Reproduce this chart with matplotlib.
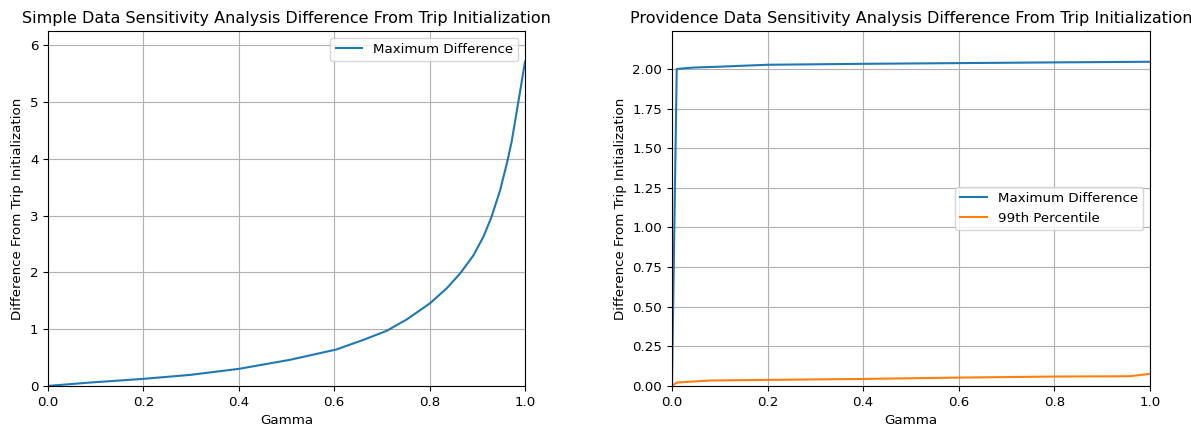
import matplotlib
matplotlib.use("Agg")
import matplotlib.pyplot as plt

# Left panel: simple data
simple_gamma = [0.0, 0.088, 0.2, 0.298, 0.4, 0.507, 0.604, 0.661, 0.710, 0.752, 0.801,
                0.836, 0.864, 0.892, 0.913, 0.930, 0.948, 0.962, 0.972, 0.983, 0.991, 1.0]
simple_max = [0.0, 0.059, 0.124, 0.194, 0.30, 0.459, 0.64, 0.81, 0.97, 1.17, 1.456,
              1.72, 1.98, 2.30, 2.63, 2.98, 3.45, 3.92, 4.30, 4.85, 5.25, 5.71]

# Right panel: Providence data
prov_gamma = [0.0, 0.01, 0.03, 0.05, 0.1, 0.2, 0.4, 0.6, 0.8, 1.0]
prov_max = [0.0, 2.0, 2.006, 2.01, 2.015, 2.027, 2.033, 2.0375, 2.042, 2.046]
p99_gamma = [0.0, 0.01, 0.03, 0.08, 0.2, 0.4, 0.6, 0.8, 0.958, 1.0]
p99_vals = [0.0, 0.021, 0.025, 0.034, 0.038, 0.044, 0.0525, 0.059, 0.061, 0.076]

plt.rcParams['font.size'] = 9.6
plt.rcParams['axes.titlesize'] = 11.5

fig = plt.figure(figsize=(11.91, 4.25), dpi=100)
ax1 = fig.add_axes([0.0403, 0.092, 0.4005, 0.835])
ax2 = fig.add_axes([0.5642, 0.092, 0.4013, 0.835])

ax1.plot(simple_gamma, simple_max, label="Maximum Difference")
ax1.set_xlim(0, 1)
ax1.set_ylim(0, 6.25)
ax1.grid(True)
ax1.set_xlabel("Gamma")
ax1.set_ylabel("Difference From Trip Initialization")
ax1.set_title("Simple Data Sensitivity Analysis Difference From Trip Initialization")
ax1.legend(loc="upper right")

ax2.plot(prov_gamma, prov_max, label="Maximum Difference")
ax2.plot(p99_gamma, p99_vals, label="99th Percentile")
ax2.set_xlim(0, 1)
ax2.set_ylim(0, 2.24)
ax2.grid(True)
ax2.set_xlabel("Gamma")
ax2.set_ylabel("Difference From Trip Initialization")
ax2.set_title("Providence Data Sensitivity Analysis Difference From Trip Initialization")
ax2.legend(loc="center right")

fig.savefig("out.png", dpi=100)
